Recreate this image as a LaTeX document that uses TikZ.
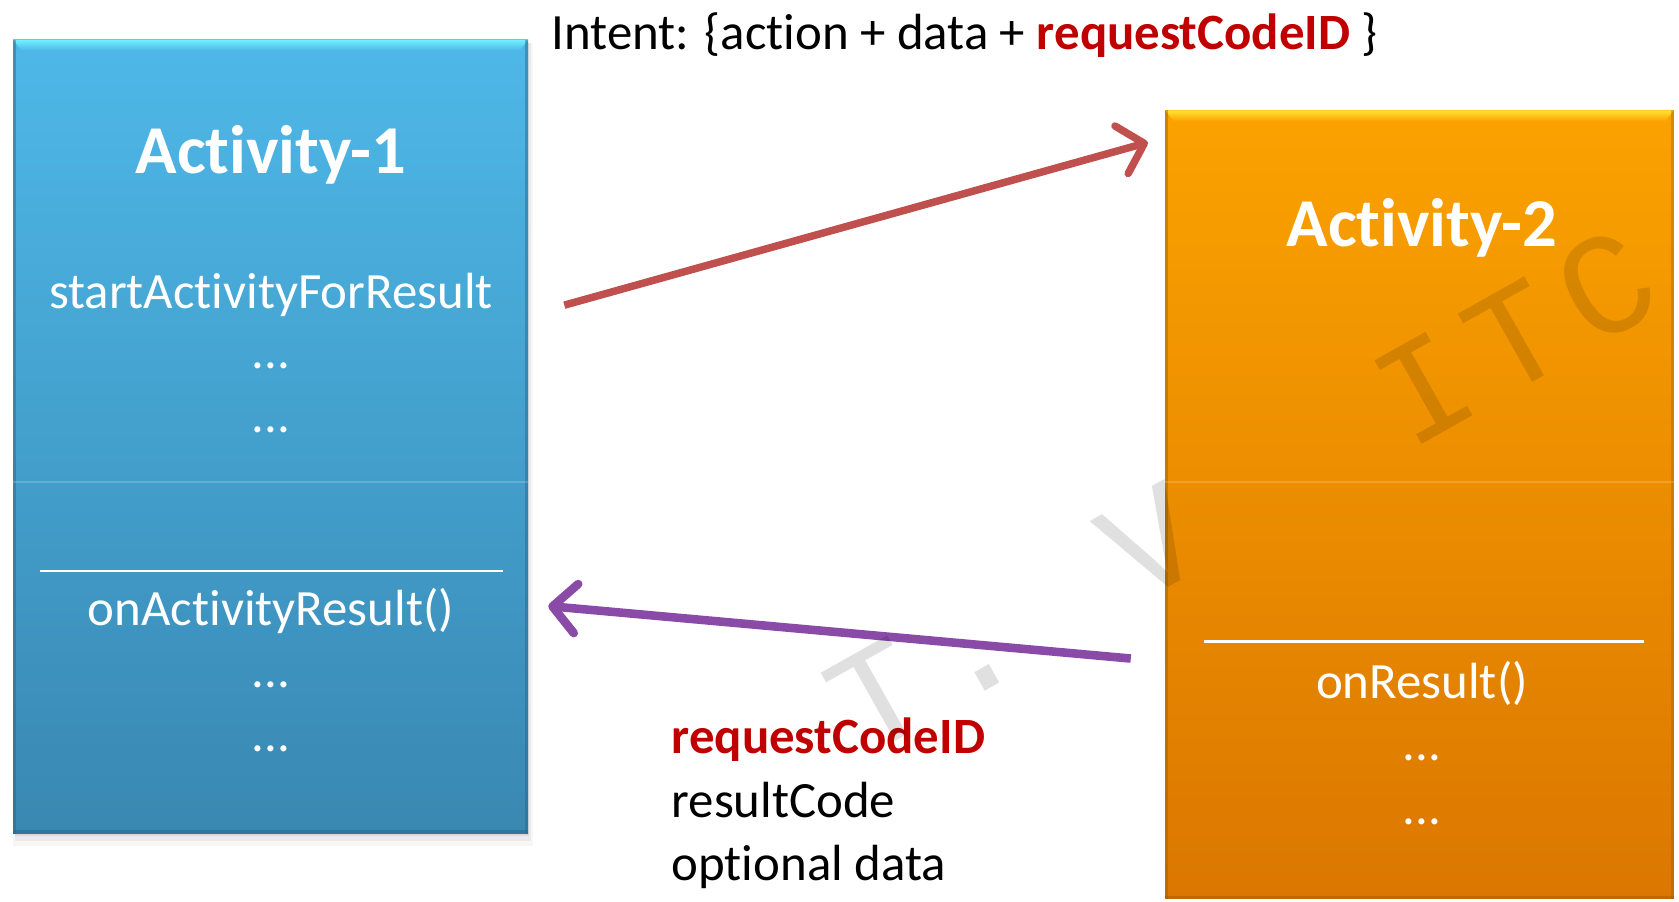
\documentclass[tikz,border=0pt]{standalone}
\usepackage{fontspec}
\setmainfont{Carlito}[Ligatures=NoCommon]
\newfontfamily\markfont{Liberation Mono}
\usetikzlibrary{arrows.meta}

\definecolor{blueTop}{RGB}{78,184,232}
\definecolor{blueBot}{RGB}{57,136,178}
\definecolor{blueRim}{RGB}{112,242,255}
\definecolor{blueEdge}{RGB}{40,100,140}
\definecolor{orangeTop}{RGB}{251,162,0}
\definecolor{orangeBot}{RGB}{219,119,0}
\definecolor{orangeRim}{RGB}{255,228,50}
\definecolor{orangeEdge}{RGB}{160,90,0}
\definecolor{sendRed}{RGB}{192,80,77}
\definecolor{backPurple}{RGB}{138,75,168}
\definecolor{codeRed}{RGB}{192,0,0}

\begin{document}
\begin{tikzpicture}[x=1pt,y=-1pt,
  box/.style={draw=none,inner sep=0,anchor=north west},
  bluebox/.style={box,top color=blueTop,bottom color=blueBot},
  orangebox/.style={box,top color=orangeTop,bottom color=orangeBot},
  divider/.style={draw=white,line width=2.2},
  midglow/.style={draw=white,opacity=.18,line width=1.6},
  boxtitle/.style={text=white,inner sep=0,anchor=base,
    font=\fontsize{64}{70}\selectfont\bfseries},
  method/.style={text=white,inner sep=0,anchor=base,
    font=\fontsize{47.5}{57}\selectfont},
  plain/.style={text=black,inner sep=0,anchor=base west,
    font=\fontsize{47.5}{57}\selectfont},
  sendarrow/.style={draw=sendRed,line width=7,
    -{Straight Barb[length=22,width=46,round]}},
  backarrow/.style={draw=backPurple,line width=8,
    -{Straight Barb[length=22,width=46,round]}},
  watermark/.style={text=black,opacity=.12,inner sep=0,anchor=base,
    rotate=29.4,font=\markfont\fontsize{136}{140}\selectfont}
]
\useasboundingbox (0,0) rectangle (1568,842);

% ---- Activity-1 box ----
\fill[black,opacity=.03] (12,40) rectangle (498,790);
\fill[black,opacity=.05] (14,40) rectangle (496,785);
\fill[black,opacity=.07] (14,40) rectangle (494,781);
\node[bluebox,minimum width=481,minimum height=741] (act1) at (12,37) {};
\shade[top color=blueRim,bottom color=blueTop]
  (act1.north west) -- (act1.north east) -- ([xshift=-8,yshift=-10]act1.north east)
  -- ([xshift=8,yshift=-10]act1.north west) -- cycle;
\fill[blueEdge,opacity=.45] (act1.north west) rectangle ([xshift=3]act1.south west);
\fill[blueEdge,opacity=.45] ([xshift=-3]act1.north east) rectangle (act1.south east);
\fill[blueEdge,opacity=.5] ([yshift=3]act1.south west) rectangle (act1.south east);
\draw[midglow] (12,450) -- (493,450);
\draw[divider] (37,533) -- (470,533);

\node[boxtitle] (t1) at (253,162) {Activity-1};
\node[method] (m1) at (253,288) {startActivityForResult};
\node[method] (d1) at (253,344) {...};
\node[method] (d2) at (253,404) {...};
\node[method] (m2) at (253,584) {onActivityResult()};
\node[method] (d3) at (253,642) {...};
\node[method] (d4) at (253,702) {...};

% ---- Activity-2 box ----
\node[orangebox,minimum width=475,minimum height=736] (act2) at (1088,103) {};
\shade[top color=orangeRim,bottom color=orangeTop]
  (act2.north west) -- (act2.north east) -- ([xshift=-8,yshift=-10]act2.north east)
  -- ([xshift=8,yshift=-10]act2.north west) -- cycle;
\fill[orangeEdge,opacity=.45] (act2.north west) rectangle ([xshift=3]act2.south west);
\fill[orangeEdge,opacity=.35] ([xshift=-3]act2.north east) rectangle (act2.south east);
\fill[orangeEdge,opacity=.45] ([yshift=3]act2.south west) rectangle (act2.south east);
\draw[midglow] (1088,450) -- (1563,450);
\draw[divider] (1124,599) -- (1535,599);

\node[boxtitle] (t2) at (1328,230) {Activity-2};
\node[method] (m3) at (1328,652) {onResult()};
\node[method] (d5) at (1328,710) {...};
\node[method] (d6) at (1328,770) {...};

% ---- messages ----
\node[plain] (intent) at (515,46)
  {Intent: \{action + data + \textcolor{codeRed}{\bfseries requestCodeID} \}};
\node[plain,text=codeRed,font=\fontsize{47.5}{57}\selectfont\bfseries] (rc) at (627,704) {requestCodeID};
\node[plain] (res) at (627,763) {resultCode};
\node[plain] (opt) at (627,822) {optional data};

% ---- arrows ----
\coordinate (sendFrom) at (527,285);
\coordinate (sendTo) at (1072,133);
\coordinate (backFrom) at (1056,615);
\coordinate (backTo) at (512,566);
\draw[sendarrow] (sendFrom) -- (sendTo);
\draw[backarrow] (backFrom) -- (backTo);

% ---- watermark ----
\foreach \ch/\n in {T/0,./1,V/3,I/6,T/7,C/8}
  \node[watermark] (wm\n) at ({842+85*\n},{689.3-47.92*\n}) {\ch};
\end{tikzpicture}
\end{document}
